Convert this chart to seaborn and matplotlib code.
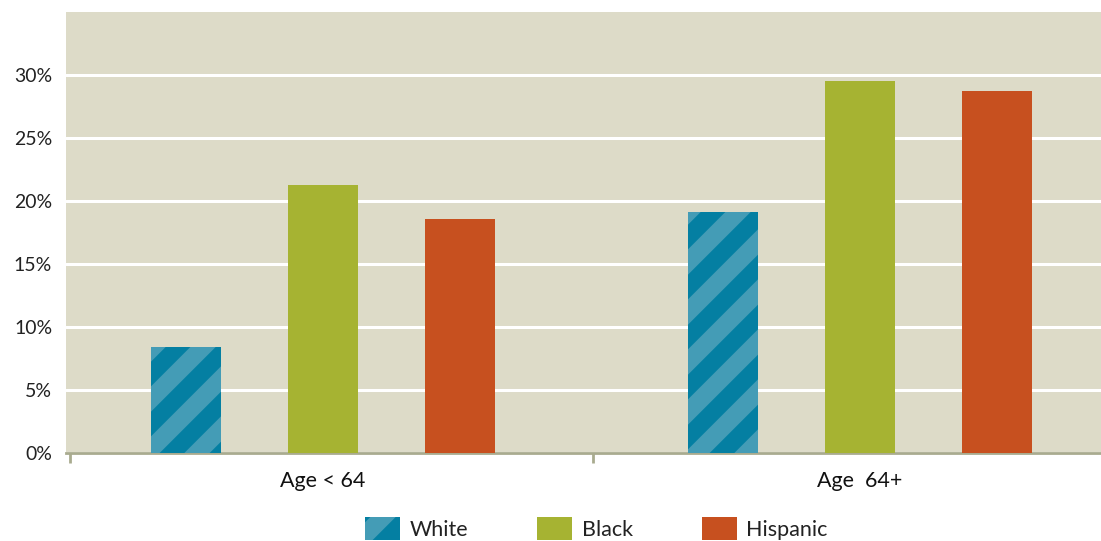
import pandas as pd
import numpy as np
import seaborn as sns
import matplotlib.pyplot as plt
from matplotlib.patches import Patch
from matplotlib.ticker import FixedLocator

# data
age_groups = ['Age < 64', 'Age  64+']
races = ['White', 'Black', 'Hispanic']
white = [8.4, 19.1]
black = [21.3, 29.5]
hispanic = [18.6, 28.7]

colors = ['#047fa2', '#a6b332', '#c7501f']
stripe = '#449cb6'

df = pd.DataFrame({
    'age': age_groups * 3,
    'race': np.repeat(races, 2),
    'pct': white + black + hispanic,
})

# big dpi so the hatch stripes come out wide; sizes scaled back by S
DPI = 300
S = 100 / DPI

sns.set_style('white')
plt.rcParams['font.family'] = ['Lato', 'DejaVu Sans']
plt.rcParams['hatch.linewidth'] = 4.3

fig = plt.figure(figsize=(1101 / DPI, 541 / DPI), dpi=DPI)
ax = fig.add_axes([66 / 1101, 1 - 453 / 541, 1 - 66 / 1101, (453 - 12) / 541])
ax.set_facecolor('#dddbc8')

sns.barplot(data=df, x='age', y='pct', hue='race', hue_order=races,
            order=age_groups, palette=colors, width=0.765, gap=0.49,
            saturation=1, legend=False, ax=ax, zorder=3, linewidth=0)

# stripes on the White bars
for p in ax.containers[0]:
    p.set_edgecolor(stripe)
    p.set_linewidth(0)
    p.set_hatch('//')

ax.set_xlim(-0.4786, 1.4488)
ax.set_ylim(0, 35)
ax.set_yticks(range(0, 35, 5))
ax.set_yticklabels([f'{v}%' for v in range(0, 35, 5)])
ax.grid(axis='y', color='white', linewidth=2.2 * S, zorder=1)
ax.set_axisbelow(True)
ax.set_xlabel('')
ax.set_ylabel('')

for side in ['left', 'right', 'top']:
    ax.spines[side].set_visible(False)
ax.spines['bottom'].set_color('#a9ab8f')
ax.spines['bottom'].set_linewidth(2 * S)

ax.tick_params(axis='y', length=0, pad=10 * S, labelsize=14 * S, labelcolor='#222222')
ax.tick_params(axis='x', which='major', length=0, pad=13 * S, labelsize=15.5 * S, labelcolor='#111111')
ax.xaxis.set_minor_locator(FixedLocator([-0.471, 0.503]))
ax.tick_params(axis='x', which='minor', bottom=True, length=7 * S, width=2 * S, color='#a9ab8f')

handles = [Patch(facecolor=c, edgecolor=c, linewidth=0) for c in colors]
handles[0].set_edgecolor(stripe)
handles[0].set_hatch('/')
fig.legend(handles, races, loc='upper left', bbox_to_anchor=(365 / 1101, 1 - 517 / 541),
           ncol=3, frameon=False, fontsize=15.5 * S, borderpad=0, borderaxespad=0,
           handlelength=1.62, handleheight=1.3, handletextpad=0.45, columnspacing=3.2,
           labelcolor='#222222')

fig.savefig('out.png', dpi=DPI, facecolor='white')
